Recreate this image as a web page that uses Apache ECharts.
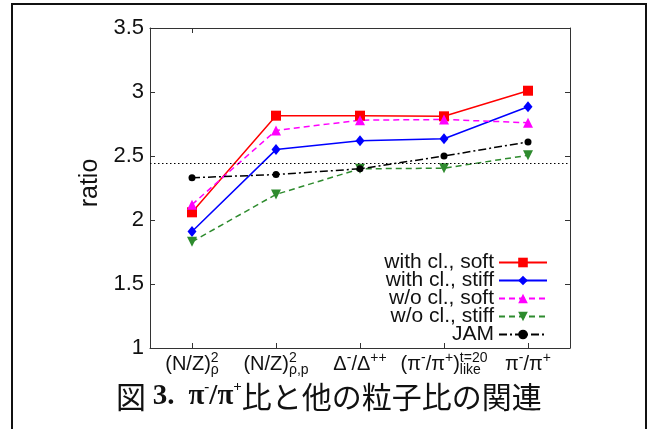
<!DOCTYPE html>
<html><head><meta charset="utf-8">
<script src="https://cdn.jsdelivr.net/npm/echarts@6/dist/echarts.min.js"></script>
<style>html,body{margin:0;padding:0;background:#fff}#c{width:656px;height:429px}</style>
</head><body><div id="c"></div>
<script>
// Category tick labels (rich text: m = main, sup = superscript, sub = subscript, z-variants have zero width for stacking)
const categories = [
  '{m|(N/Z)}{supz|2}{sub|ρ}',
  '{m|(N/Z)}{supz|2}{sub|ρ,p}',
  '{m|Δ}{sup|-}{m|/Δ}{sup|++}',
  '{m|(π}{sup|-}{m|/π}{sup|+}{m|)}{subz|like}{sup|t=20}',
  '{m|π}{sup|-}{m|/π}{sup|+}'
];
const seriesNames = ['with cl., soft', 'with cl., stiff', 'w/o cl., soft', 'w/o cl., stiff', 'JAM'];
const withClSoft  = [2.06, 2.815, 2.815, 2.81, 3.01];
const withClStiff = [1.91, 2.55, 2.62, 2.635, 2.885];
const woClSoft    = [2.12, 2.70, 2.78, 2.785, 2.76];
const woClStiff   = [1.83, 2.20, 2.40, 2.405, 2.505];
const jam         = [2.33, 2.355, 2.40, 2.50, 2.61];
const refLine = 2.435;
const yMin = 1, yMax = 3.5, yInterval = 0.5;
const captionText = '{c|図 }{b|3.}{c| }{b| π}{s|-}{b|/π}{s|+}{c|比と他の粒子比の関連}';

const sans = 'Liberation Sans, Arial, sans-serif';
const chart = echarts.init(document.getElementById('c'), null, {renderer: 'canvas'});
const axisLineStyle = {color: '#333', width: 1};
const tick = {show: true, inside: true, length: 5, lineStyle: {color: '#333'}};

function mk(name, data, color, symbol, size, lineType, rotate) {
  return {
    name: name, type: 'line', data: data,
    symbol: symbol, symbolSize: size, symbolRotate: rotate || 0,
    lineStyle: {color: color, width: 1.5, type: lineType},
    itemStyle: {color: color},
    z: 3
  };
}

const series = [
  mk(seriesNames[0], withClSoft, '#ff0000', 'rect', 10, 'solid'),
  mk(seriesNames[1], withClStiff, '#0000ff', 'diamond', [9, 11], 'solid'),
  mk(seriesNames[2], woClSoft, '#ff00ff', 'triangle', 10, [6, 4]),
  mk(seriesNames[3], woClStiff, '#2e8b2e', 'triangle', 10, [6, 4], 180),
  mk(seriesNames[4], jam, '#000000', 'circle', 7, [8, 3, 2, 3])
];
series[4].markLine = {
  silent: true, symbol: 'none', label: {show: false},
  lineStyle: {color: '#000', width: 1, type: [1.5, 2.5]},
  data: [{yAxis: refLine}]
};

const rich = {
  m: {fontSize: 20, fontFamily: sans, color: '#111', lineHeight: 26, verticalAlign: 'middle', align: 'left'},
  sup: {fontSize: 14, fontFamily: sans, color: '#111', lineHeight: 14, verticalAlign: 'top', align: 'left'},
  supz: {fontSize: 14, fontFamily: sans, color: '#111', lineHeight: 14, verticalAlign: 'top', align: 'left', width: 0},
  sub: {fontSize: 14, fontFamily: sans, color: '#111', lineHeight: 14, verticalAlign: 'bottom', align: 'left'},
  subz: {fontSize: 14, fontFamily: sans, color: '#111', lineHeight: 14, verticalAlign: 'bottom', align: 'left', width: 0}
};

chart.setOption({
  animation: false,
  backgroundColor: '#fff',
  grid: {left: 150, right: 86, top: 28, bottom: 81},
  title: {
    text: captionText, left: 116, top: 380, padding: 0,
    textStyle: {
      fontWeight: 'normal',
      rich: {
        c: {fontFamily: 'Noto Sans CJK JP', fontWeight: 'normal', fontSize: 30, color: '#111', lineHeight: 34},
        b: {fontFamily: 'Liberation Serif', fontWeight: 'bold', fontSize: 29, color: '#111', lineHeight: 34},
        s: {fontFamily: 'Liberation Serif', fontWeight: 'bold', fontSize: 15, color: '#111', lineHeight: 15, verticalAlign: 'top'}
      }
    }
  },
  legend: {
    orient: 'vertical', right: 108, top: 252, padding: 0,
    align: 'right', itemWidth: 48, itemHeight: 12, itemGap: -3,
    textStyle: {fontSize: 21, fontFamily: sans, color: '#111', lineHeight: 16},
    data: seriesNames
  },
  xAxis: [{
    type: 'category', data: categories, position: 'bottom',
    axisLine: {lineStyle: axisLineStyle},
    axisTick: Object.assign({alignWithLabel: true}, tick),
    axisLabel: {margin: 3, interval: 0, rich: rich, formatter: v => v}
  }, {
    type: 'category', data: categories, position: 'top',
    axisLine: {lineStyle: axisLineStyle},
    axisTick: Object.assign({alignWithLabel: true}, tick),
    axisLabel: {show: false}
  }],
  yAxis: [{
    type: 'value', min: yMin, max: yMax, interval: yInterval, position: 'left',
    name: 'ratio', nameLocation: 'middle', nameGap: 38,
    nameTextStyle: {fontSize: 25, fontFamily: sans, color: '#111', padding: [0, 0, 0, 10]},
    axisLine: {show: true, lineStyle: axisLineStyle},
    axisTick: tick,
    splitLine: {show: false},
    axisLabel: {fontSize: 22, fontFamily: sans, color: '#111', margin: 6}
  }, {
    type: 'value', min: yMin, max: yMax, interval: yInterval, position: 'right',
    axisLine: {show: true, lineStyle: axisLineStyle},
    axisTick: tick,
    splitLine: {show: false},
    axisLabel: {show: false}
  }],
  graphic: [{
    type: 'rect', silent: true, z: 100,
    shape: {x: 12, y: 4, width: 634, height: 450},
    style: {fill: 'none', stroke: '#111', lineWidth: 2}
  }],
  series: series
});
</script></body></html>
